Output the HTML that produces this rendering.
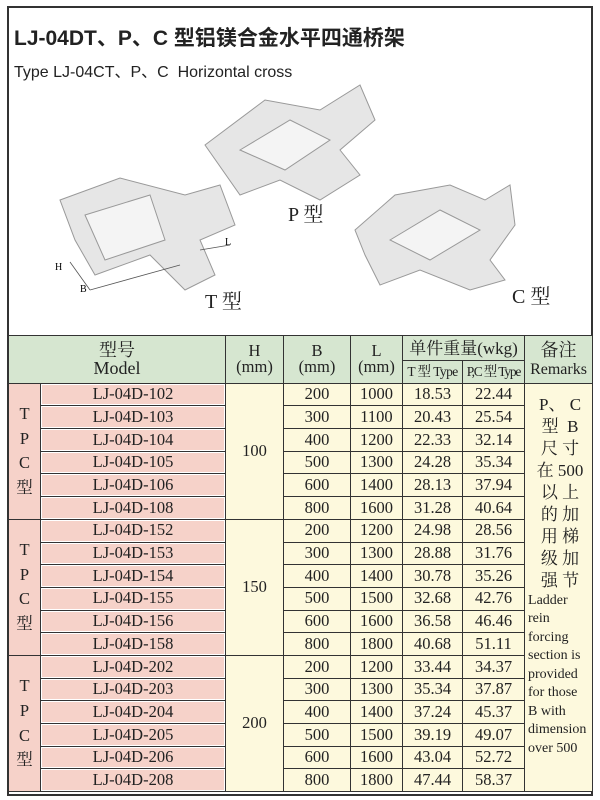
<!DOCTYPE html>
<html><head><meta charset="utf-8"><style>
*{margin:0;padding:0;box-sizing:border-box}
body{width:600px;height:800px;background:#fff;position:relative;overflow:hidden;font-family:"Liberation Serif","Noto Serif CJK SC",serif}
.frame{position:absolute;left:7px;top:6px;width:586px;height:790px;border:2px solid #333}
.t1{position:absolute;left:14px;top:22px;font:bold 21px "Liberation Sans","Noto Sans CJK SC",sans-serif;color:#222}
.t2{position:absolute;left:14px;top:58px;font:16px "Liberation Sans","Noto Sans CJK SC",sans-serif;color:#222}
table{position:absolute;left:8px;top:335px;width:584px;border-collapse:collapse;table-layout:fixed;font-size:16.5px;color:#222}
td{border:1px solid #333;text-align:center;height:22.7px;padding:0;line-height:1}
.h{background:#d6e6d0}
.pk{background:#f6d2c9}
.m{background:#f6d2c9;box-shadow:inset 0 0 0 1px #fff}
.y{background:#fdf9dd}
.lbl{position:absolute;font:20px "Liberation Serif","Noto Serif CJK SC",serif;color:#222}
</style></head><body>
<div class="frame"></div>
<div class="t1">LJ-04DT、P、C 型铝镁合金水平四通桥架</div>
<div class="t2">Type LJ-04CT、P、C&nbsp; Horizontal cross</div>
<svg style="position:absolute;left:0;top:0" width="600" height="335">
<g fill="#e6e6e6" stroke="#999" stroke-width="1">
<polygon points="60,200 120,178 185,195 220,185 235,225 200,240 215,275 185,290 150,255 95,275 75,240"/>
<polygon points="85,215 150,195 165,240 105,260" fill="#f4f4f4"/>
<polygon points="205,145 265,100 320,110 360,85 375,120 340,150 360,175 320,200 280,180 240,195"/>
<polygon points="240,150 290,120 330,140 285,170" fill="#f4f4f4"/>
<polygon points="355,230 395,195 450,185 485,200 510,185 515,225 490,260 505,280 470,290 420,270 380,285 365,255"/>
<polygon points="390,240 440,210 480,230 430,260" fill="#f4f4f4"/>
</g>
<g stroke="#555" fill="none" stroke-width="0.8"><line x1="70" y1="262" x2="90" y2="290"/><line x1="90" y1="290" x2="180" y2="265"/><line x1="200" y1="250" x2="230" y2="245"/></g>
<text x="55" y="270" font-size="10" font-family="Liberation Serif">H</text>
<text x="80" y="292" font-size="10" font-family="Liberation Serif">B</text>
<text x="225" y="245" font-size="10" font-family="Liberation Serif">L</text>
</svg>
<div class="lbl" style="left:288px;top:198px">P 型</div>
<div class="lbl" style="left:205px;top:285px">T 型</div>
<div class="lbl" style="left:512px;top:280px">C 型</div>
<table>
<colgroup><col style="width:32px"><col style="width:185px"><col style="width:58px"><col style="width:67px"><col style="width:52px"><col style="width:60px"><col style="width:62px"><col style="width:68px"></colgroup>
<tr class="h" style="height:25px"><td colspan="2" rowspan="2" class="h" style="font-size:18px">型号<br>Model</td><td rowspan="2" class="h">H<br>(mm)</td><td rowspan="2" class="h">B<br>(mm)</td><td rowspan="2" class="h">L<br>(mm)</td><td colspan="2" class="h" style="font-size:17px">单件重量(wkg)</td><td rowspan="2" class="h" style="font-size:18px">备注<br><span style="font-size:16px">Remarks</span></td></tr>
<tr style="height:21px"><td class="h" style="font-size:13.5px;white-space:nowrap;letter-spacing:-0.6px">T 型 Type</td><td class="h" style="font-size:13.5px;white-space:nowrap;letter-spacing:-1.2px">P,C 型 Type</td></tr>
<tr><td rowspan="6" class="pk" style="line-height:1.5">T<br>P<br>C<br>型</td><td class="m">LJ-04D-102</td><td rowspan="6" class="y">100</td><td class="y">200</td><td class="y">1000</td><td class="y">18.53</td><td class="y">22.44</td>
<td rowspan="18" class="y" style="vertical-align:top;text-align:left;padding:10px 2px 0 3px;line-height:19px"><div style="text-align:center;font-size:17px;line-height:22px;padding-left:2px">P、 C<br>型&nbsp; B<br>尺 寸<br>在 500<br>以 上<br>的 加<br>用 梯<br>级 加<br>强 节</div><div style="font-size:14px;line-height:18.5px;width:58px">Ladder rein forcing section is provided for those B with dimension over 500</div></td></tr>
<tr><td class="m">LJ-04D-103</td><td class="y">300</td><td class="y">1100</td><td class="y">20.43</td><td class="y">25.54</td></tr>
<tr><td class="m">LJ-04D-104</td><td class="y">400</td><td class="y">1200</td><td class="y">22.33</td><td class="y">32.14</td></tr>
<tr><td class="m">LJ-04D-105</td><td class="y">500</td><td class="y">1300</td><td class="y">24.28</td><td class="y">35.34</td></tr>
<tr><td class="m">LJ-04D-106</td><td class="y">600</td><td class="y">1400</td><td class="y">28.13</td><td class="y">37.94</td></tr>
<tr><td class="m">LJ-04D-108</td><td class="y">800</td><td class="y">1600</td><td class="y">31.28</td><td class="y">40.64</td></tr>
<tr><td rowspan="6" class="pk" style="line-height:1.5">T<br>P<br>C<br>型</td><td class="m">LJ-04D-152</td><td rowspan="6" class="y">150</td><td class="y">200</td><td class="y">1200</td><td class="y">24.98</td><td class="y">28.56</td></tr>
<tr><td class="m">LJ-04D-153</td><td class="y">300</td><td class="y">1300</td><td class="y">28.88</td><td class="y">31.76</td></tr>
<tr><td class="m">LJ-04D-154</td><td class="y">400</td><td class="y">1400</td><td class="y">30.78</td><td class="y">35.26</td></tr>
<tr><td class="m">LJ-04D-155</td><td class="y">500</td><td class="y">1500</td><td class="y">32.68</td><td class="y">42.76</td></tr>
<tr><td class="m">LJ-04D-156</td><td class="y">600</td><td class="y">1600</td><td class="y">36.58</td><td class="y">46.46</td></tr>
<tr><td class="m">LJ-04D-158</td><td class="y">800</td><td class="y">1800</td><td class="y">40.68</td><td class="y">51.11</td></tr>
<tr><td rowspan="6" class="pk" style="line-height:1.5">T<br>P<br>C<br>型</td><td class="m">LJ-04D-202</td><td rowspan="6" class="y">200</td><td class="y">200</td><td class="y">1200</td><td class="y">33.44</td><td class="y">34.37</td></tr>
<tr><td class="m">LJ-04D-203</td><td class="y">300</td><td class="y">1300</td><td class="y">35.34</td><td class="y">37.87</td></tr>
<tr><td class="m">LJ-04D-204</td><td class="y">400</td><td class="y">1400</td><td class="y">37.24</td><td class="y">45.37</td></tr>
<tr><td class="m">LJ-04D-205</td><td class="y">500</td><td class="y">1500</td><td class="y">39.19</td><td class="y">49.07</td></tr>
<tr><td class="m">LJ-04D-206</td><td class="y">600</td><td class="y">1600</td><td class="y">43.04</td><td class="y">52.72</td></tr>
<tr><td class="m">LJ-04D-208</td><td class="y">800</td><td class="y">1800</td><td class="y">47.44</td><td class="y">58.37</td></tr>
</table>
</body></html>
